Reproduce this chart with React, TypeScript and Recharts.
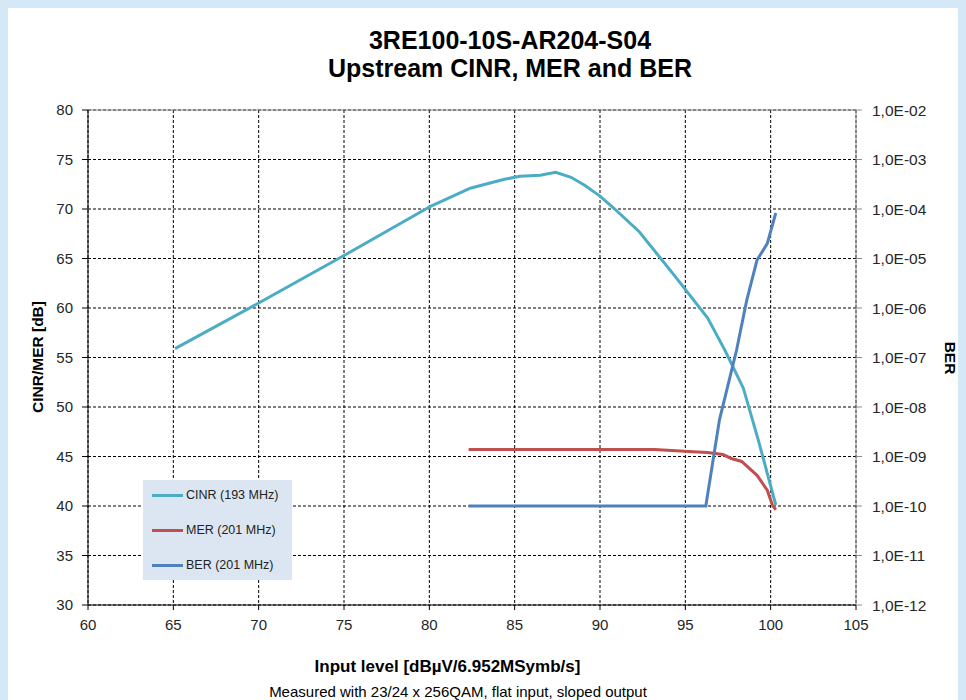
import React from "react";
import { LineChart, Line, XAxis, YAxis, CartesianGrid, ReferenceLine, Legend } from "recharts";

// CINR (193 MHz) – left axis [dB]
const cinrX = [65.1, 70.0, 75.0, 80.1, 82.4, 83.5, 84.4, 85.3, 86.5, 87.4, 88.3, 89.1, 90.0, 90.8, 92.3, 94.4, 96.3, 97.3, 98.4, 99.3, 100.3];
const cinrY = [55.9, 60.5, 65.3, 70.3, 72.1, 72.6, 73.0, 73.3, 73.4, 73.7, 73.2, 72.4, 71.3, 70.1, 67.7, 63.2, 59.0, 55.8, 51.9, 46.5, 40.1];

// MER (201 MHz) – left axis [dB]
const merX = [82.3, 93.2, 95.2, 96.3, 97.2, 97.7, 98.3, 99.2, 99.8, 100.1, 100.3];
const merY = [45.7, 45.7, 45.5, 45.4, 45.2, 44.8, 44.5, 43.1, 41.6, 40.1, 39.6];

// BER (201 MHz) – right axis (log)
const berX = [82.3, 96.2, 97.0, 98.0, 98.6, 99.2, 99.8, 100.3];
const berY = [1e-10, 1e-10, 5.5e-9, 1.4e-7, 1.45e-6, 9.3e-6, 2.0e-5, 8.3e-5];

const xTicks = [60, 65, 70, 75, 80, 85, 90, 95, 100, 105];
const leftTicks = [30, 35, 40, 45, 50, 55, 60, 65, 70, 75, 80];
const berTicks = [1e-12, 1e-11, 1e-10, 1e-9, 1e-8, 1e-7, 1e-6, 1e-5, 1e-4, 1e-3, 1e-2];

const seriesNames = ["CINR (193 MHz)", "MER (201 MHz)", "BER (201 MHz)"];
const seriesColors = ["#4bacc6", "#c0504d", "#4f81bd"];

const titleLines = ["3RE100-10S-AR204-S04", "Upstream CINR, MER and BER"];
const xLabel = "Input level [dBµV/6.952MSymb/s]";
const subLabel = "Measured with 23/24 x 256QAM, flat input, sloped output";
const leftLabel = "CINR/MER [dB]";
const rightLabel = "BER";

const FONT = "'Liberation Sans', Arial, sans-serif";

const cinrData = cinrX.map((x, i) => ({ x, y: cinrY[i] }));
const merData = merX.map((x, i) => ({ x, y: merY[i] }));
const berData = berX.map((x, i) => ({ x, y: berY[i] }));

const fmtBer = (v: number) => {
  const e = Math.round(Math.log10(v));
  const a = Math.abs(e);
  return "1,0E" + (e < 0 ? "-" : "+") + (a < 10 ? "0" + a : String(a));
};

const LegendBox = () => (
  <div
    style={{
      width: 149,
      height: 100,
      background: "#dce6f2",
      position: "relative",
      fontFamily: FONT,
      fontSize: 12.5,
      color: "#222",
    }}
  >
    {seriesNames.map((n, i) => (
      <div key={n} style={{ position: "absolute", left: 9, top: 15 + i * 35 - 8, height: 16, display: "flex", alignItems: "center" }}>
        <div style={{ width: 31, height: 3, background: seriesColors[i], marginRight: 3 }} />
        <span style={{ whiteSpace: "nowrap" }}>{n}</span>
      </div>
    ))}
  </div>
);

export default function App() {
  const W = 958;
  const H = 692;
  return (
    <div style={{ position: "relative", width: W, height: H, background: "#fff", fontFamily: FONT }}>
      <style>{"body{background:#d5e8f7;}"}</style>
      <LineChart width={W} height={H} margin={{ top: 102, right: 10, bottom: 65, left: 0 }}>
        <CartesianGrid yAxisId="left" stroke="#000" strokeDasharray="3 2" strokeWidth={1} />
        <XAxis
          dataKey="x"
          type="number"
          domain={[60, 105]}
          ticks={xTicks}
          allowDataOverflow
          height={30}
          tickSize={5}
          tickMargin={9}
          axisLine={{ stroke: "#000", strokeWidth: 1 }}
          tickLine={{ stroke: "#000" }}
          tick={{ fill: "#262626", fontSize: 15, fontFamily: FONT }}
        />
        <YAxis
          yAxisId="left"
          orientation="left"
          type="number"
          domain={[30, 80]}
          ticks={leftTicks}
          width={80}
          tickSize={6}
          tickMargin={9}
          axisLine={{ stroke: "#000", strokeWidth: 1 }}
          tickLine={{ stroke: "#000" }}
          tick={{ fill: "#262626", fontSize: 15, fontFamily: FONT }}
        />
        <YAxis
          yAxisId="right"
          orientation="right"
          type="number"
          scale="log"
          domain={[1e-12, 1e-2]}
          ticks={berTicks}
          allowDataOverflow
          width={100}
          tickSize={6}
          tickMargin={10}
          tickFormatter={fmtBer}
          axisLine={{ stroke: "#8c8c8c", strokeWidth: 1 }}
          tickLine={{ stroke: "#8c8c8c" }}
          tick={{ fill: "#262626", fontSize: 15.5, fontFamily: FONT }}
        />
        <ReferenceLine yAxisId="left" y={80} stroke="#8c8c8c" strokeWidth={1} />
        <Legend
          layout="vertical"
          align="center"
          verticalAlign="middle"
          content={() => <LegendBox />}
          wrapperStyle={{ left: 135, top: 472, width: 149, height: 100 }}
        />
        <Line
          yAxisId="left"
          data={cinrData}
          dataKey="y"
          name={seriesNames[0]}
          type="linear"
          stroke={seriesColors[0]}
          strokeWidth={3}
          dot={false}
          isAnimationActive={false}
        />
        <Line
          yAxisId="left"
          data={merData}
          dataKey="y"
          name={seriesNames[1]}
          type="linear"
          stroke={seriesColors[1]}
          strokeWidth={3}
          dot={false}
          isAnimationActive={false}
        />
        <Line
          yAxisId="right"
          data={berData}
          dataKey="y"
          name={seriesNames[2]}
          type="linear"
          stroke={seriesColors[2]}
          strokeWidth={3}
          dot={false}
          isAnimationActive={false}
        />
      </LineChart>
      <svg width={W} height={H} style={{ position: "absolute", left: 0, top: 0, pointerEvents: "none" }}>
        <text x={502} y={41} textAnchor="middle" fontFamily={FONT} fontSize={25} fontWeight="bold" fill="#000">
          {titleLines[0]}
        </text>
        <text x={502} y={69} textAnchor="middle" fontFamily={FONT} fontSize={25} fontWeight="bold" fill="#000">
          {titleLines[1]}
        </text>
        <text x={439.5} y={664} textAnchor="middle" fontFamily={FONT} fontSize={17} fontWeight="bold" fill="#000">
          {xLabel}
        </text>
        <text x={450} y={689} textAnchor="middle" fontFamily={FONT} fontSize={15} fill="#000">
          {subLabel}
        </text>
        <text
          x={0}
          y={0}
          transform="translate(35,349) rotate(-90)"
          textAnchor="middle"
          fontFamily={FONT}
          fontSize={15.5}
          fontWeight="bold"
          fill="#000"
        >
          {leftLabel}
        </text>
        <text
          x={0}
          y={0}
          transform="translate(937,350) rotate(90)"
          textAnchor="middle"
          fontFamily={FONT}
          fontSize={15.5}
          fontWeight="bold"
          fill="#000"
        >
          {rightLabel}
        </text>
      </svg>
    </div>
  );
}
